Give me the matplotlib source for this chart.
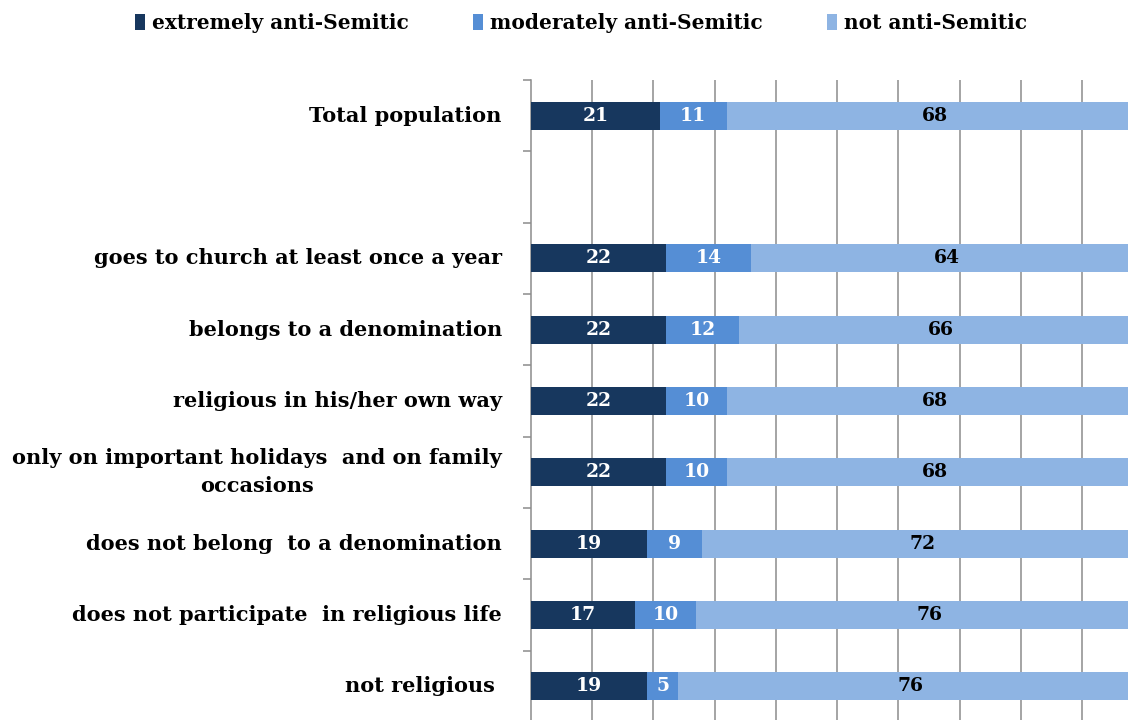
import matplotlib
matplotlib.use("Agg")
import matplotlib.pyplot as plt
from matplotlib.patches import Patch
import numpy as np

categories = [
    "Total population",
    "",
    "goes to church at least once a year",
    "belongs to a denomination",
    "religious in his/her own way",
    "only on important holidays  and on family\noccasions",
    "does not belong  to a denomination",
    "does not participate  in religious life",
    "not religious ",
]
extreme = [21, None, 22, 22, 22, 22, 19, 17, 19]
moderate = [11, None, 14, 12, 10, 10, 9, 10, 5]
not_anti = [68, None, 64, 66, 68, 68, 72, 76, 76]
series_names = ["extremely anti-Semitic", "moderately anti-Semitic", "not anti-Semitic"]
colors = ["#17375E", "#558ED5", "#8EB4E3"]
text_colors = ["white", "white", "black"]

plt.rcParams["font.family"] = ["DejaVu Serif"]
plt.rcParams["font.weight"] = "bold"

fig = plt.figure(figsize=(11.28, 7.2), dpi=100)
ax = fig.add_axes([531 / 1128, -2 / 720, 1 - 531 / 1128, 642 / 720])

y = np.arange(len(categories))
left = np.zeros(len(categories))
for vals, col, tcol in zip([extreme, moderate, not_anti], colors, text_colors):
    v = np.array([np.nan if x is None else x for x in vals], dtype=float)
    ax.barh(y, np.nan_to_num(v), left=left, height=0.39, color=col, zorder=3)
    for yi, (l, w) in enumerate(zip(left, v)):
        if not np.isnan(w):
            ax.text(l + w / 2, yi, f"{int(w)}", ha="center", va="center",
                    color=tcol, fontsize=13.5, fontweight="bold", zorder=4)
    left = left + np.nan_to_num(v)

ax.set_xlim(0, 97.5)
ax.set_ylim(len(categories) - 0.5, -0.5)

ax.set_xticks(np.arange(10, 100, 10))
ax.tick_params(axis="x", length=0, labelbottom=False)
ax.grid(axis="x", color="#8c8c8c", linewidth=1.1, zorder=0)

ax.set_yticks(y)
ax.set_yticklabels(categories, fontsize=15, fontweight="bold",
                   multialignment="center", linespacing=1.5, va="center")
ax.tick_params(axis="y", which="major", length=0, pad=21)
ax.set_yticks(np.arange(-0.5, len(categories), 1), minor=True)
ax.tick_params(axis="y", which="minor", length=6, color="#8c8c8c", width=1.1)

for s in ["top", "right", "bottom"]:
    ax.spines[s].set_visible(False)
ax.spines["left"].set_color("#8c8c8c")
ax.spines["left"].set_linewidth(1.1)

handles = [Patch(facecolor=c, edgecolor="none") for c in colors]
fig.legend(handles, series_names, loc="center", bbox_to_anchor=(0.515, 0.968), ncol=3,
           frameon=False, handlelength=0.5, handleheight=0.85,
           handletextpad=0.35, columnspacing=3.2,
           prop={"weight": "bold", "size": 14.5})

fig.savefig("out.png", dpi=100)
